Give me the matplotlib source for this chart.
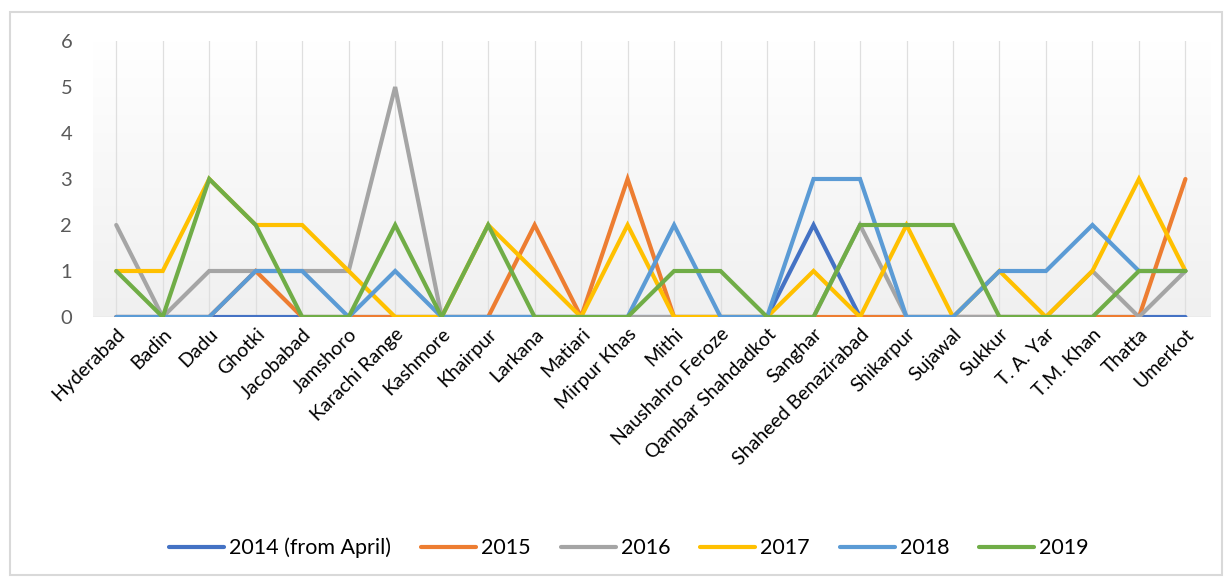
import matplotlib
matplotlib.use("Agg")
import matplotlib.pyplot as plt
import numpy as np
from matplotlib.patches import Rectangle

districts = ["Hyderabad", "Badin", "Dadu", "Ghotki", "Jacobabad", "Jamshoro",
             "Karachi Range", "Kashmore", "Khairpur", "Larkana", "Matiari",
             "Mirpur Khas", "Mithi", "Naushahro Feroze", "Qambar Shahdadkot",
             "Sanghar", "Shaheed Benazirabad", "Shikarpur", "Sujawal", "Sukkur",
             "T. A. Yar", "T.M. Khan", "Thatta", "Umerkot"]

y2014 = [0, 0, 0, 0, 0, 0, 0, 0, 0, 0, 0, 0, 0, 0, 0, 2, 0, 0, 0, 0, 0, 0, 0, 0]
y2015 = [0, 0, 0, 1, 0, 0, 0, 0, 0, 2, 0, 3, 0, 0, 0, 0, 0, 0, 0, 0, 0, 0, 0, 3]
y2016 = [2, 0, 1, 1, 1, 1, 5, 0, 0, 0, 0, 0, 0, 0, 0, 0, 2, 0, 0, 0, 0, 1, 0, 1]
y2017 = [1, 1, 3, 2, 2, 1, 0, 0, 2, 1, 0, 2, 0, 0, 0, 1, 0, 2, 0, 1, 0, 1, 3, 1]
y2018 = [0, 0, 0, 1, 1, 0, 1, 0, 0, 0, 0, 0, 2, 0, 0, 3, 3, 0, 0, 1, 1, 2, 1, 1]
y2019 = [1, 0, 3, 2, 0, 0, 2, 0, 2, 0, 0, 0, 1, 1, 0, 0, 2, 2, 2, 0, 0, 0, 1, 1]

series_labels = ["2014 (from April)", "2015", "2016", "2017", "2018", "2019"]
series = [y2014, y2015, y2016, y2017, y2018, y2019]
colors = ["#4472C4", "#ED7D31", "#A5A5A5", "#FFC000", "#5B9BD5", "#70AD47"]
yticks = [0, 1, 2, 3, 4, 5, 6]

plt.rcParams['font.family'] = ['Lato', 'DejaVu Sans']

fig = plt.figure(figsize=(12.26, 5.82), dpi=100)
# outer chart border
fig.patches.append(Rectangle((10/1226, 7/582), 1212/1226, 563/582,
                             transform=fig.transFigure, fill=False,
                             edgecolor="#D9D9D9", linewidth=1.5))

left = 93/1226
right = 1211/1226
bottom = 1 - 317/582
top = 1 - 41/582
ax = fig.add_axes([left, bottom, right - left, top - bottom])

x = np.arange(len(districts))
ax.set_xlim(-0.5, len(districts) - 0.45)
ax.set_ylim(0, 6)

# gradient background: white at top, light gray at bottom
grad = np.linspace(0.0, 1.0, 256).reshape(-1, 1)
cmap = matplotlib.colors.LinearSegmentedColormap.from_list("g", ["#F0F0F0", "#FFFFFF"])
ax.imshow(grad, extent=[0, 1, 0, 1], transform=ax.transAxes, aspect="auto",
          cmap=cmap, origin="lower", zorder=0)

for xi in x:
    ax.axvline(xi, color="#DFDFDF", linewidth=0.9, zorder=1)
ax.axhline(0, color="#D9D9D9", linewidth=1.0, zorder=1)

for vals, lab, c in zip(series, series_labels, colors):
    ax.plot(x, vals, color=c, linewidth=3.0, label=lab, zorder=3,
            solid_capstyle="round", solid_joinstyle="miter")

for s in ax.spines.values():
    s.set_visible(False)

ax.set_yticks(yticks)
ax.set_yticklabels([str(v) for v in yticks], fontsize=14.5, color="#595959")
ax.tick_params(axis="y", length=0, pad=15)
ax.set_xticks(x)
ax.set_xticklabels(districts, rotation=45, ha="right", va="top",
                   rotation_mode="anchor", fontsize=14, color="#000000")
ax.tick_params(axis="x", length=0, pad=6)

fig.legend(loc="center", bbox_to_anchor=(0.513, 1 - 548/582), ncol=6,
           frameon=False, fontsize=15.5, handlelength=2.55, columnspacing=1.4,
           handletextpad=0.23)

fig.savefig("out.png", dpi=100)
